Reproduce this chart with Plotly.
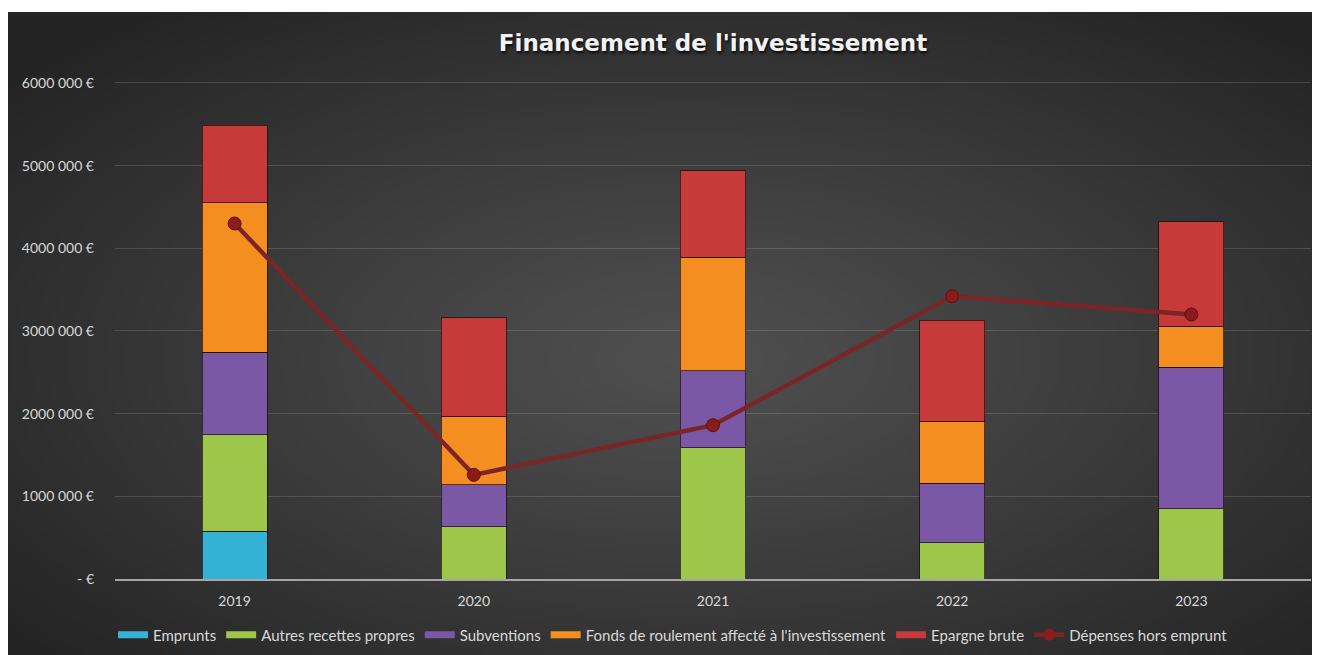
import base64, struct, zlib
import numpy as np
import plotly.graph_objects as go

years = ["2019", "2020", "2021", "2022", "2023"]
emprunts = [580000, 0, 0, 0, 0]
autres_recettes = [1165000, 630000, 1590000, 440000, 850000]
subventions = [995000, 510000, 930000, 716000, 1710000]
fonds_roulement = [1810000, 830000, 1370000, 750000, 500000]
epargne_brute = [940000, 1190000, 1050000, 1224000, 1260000]
depenses_hors_emprunt = [4300000, 1260000, 1860000, 3420000, 3200000]

ytick_vals = [0, 1000000, 2000000, 3000000, 4000000, 5000000, 6000000]
ytick_text = ["- €", "1000 000 €", "2000 000 €", "3000 000 €", "4000 000 €", "5000 000 €", "6000 000 €"]

# ---- background radial gradient as PNG ----
def make_png(arr):
    h, w, _ = arr.shape
    raw = b"".join(b"\x00" + arr[i].tobytes() for i in range(h))
    def chunk(t, d):
        c = struct.pack(">I", len(d)) + t + d
        return c + struct.pack(">I", zlib.crc32(t + d) & 0xffffffff)
    return (b"\x89PNG\r\n\x1a\n" + chunk(b"IHDR", struct.pack(">IIBBBBB", w, h, 8, 2, 0, 0, 0))
            + chunk(b"IDAT", zlib.compress(raw, 9)) + chunk(b"IEND", b""))

W, H = 262, 129
yy, xx = np.mgrid[0:H, 0:W]
dx = (xx - W * 0.52) / (W * 0.5)
dy = (yy - H * 0.52) / (H * 0.5)
r = np.clip(np.sqrt(dx ** 2 + dy ** 2) / 1.35, 0, 1)
c_in, c_out = 80.0, 36.0
v = c_in + (c_out - c_in) * r ** 1.1
img = np.stack([v, v, v], axis=-1).astype(np.uint8)
src = "data:image/png;base64," + base64.b64encode(make_png(img)).decode()

FW, FH = 1320, 655
L, R, T, B = 107, 17, 72, 84
PW, PH = FW - L - R, FH - T - B
PX_PER_M = 82.67
ytop = PH / PX_PER_M * 1e6

def px(x):
    return (x - L) / PW
def py(y):
    return (FH - B - y) / PH

fig = go.Figure()
colors = ["#35b3d6", "#9cc74a", "#7a58a6", "#f58e20", "#c73a3a"]
names = ["Emprunts", "Autres recettes propres", "Subventions",
         "Fonds de roulement affecté à l'investissement", "Epargne brute"]
series = [emprunts, autres_recettes, subventions, fonds_roulement, epargne_brute]
for n, s, c in zip(names, series, colors):
    fig.add_trace(go.Bar(x=years, y=s, name=n, legendgroup=n, showlegend=False,
                         marker=dict(color=c, line=dict(color="rgba(30,10,10,0.7)", width=1))))

fig.add_trace(go.Scatter(x=years, y=depenses_hors_emprunt, name="Dépenses hors emprunt", mode="lines+markers",
                         showlegend=False, legendgroup="dep",
                         line=dict(color="#7a2626", width=4.5),
                         marker=dict(color="#8c1c1c", size=13, line=dict(color="#5a1010", width=1))))

# legend entries (wide bar swatches like the original)
for n, c in zip(names, colors):
    fig.add_trace(go.Scatter(x=[None], y=[None], name=n, legendgroup=n, mode="lines",
                             line=dict(color=c, width=7), hoverinfo="skip"))
fig.add_trace(go.Scatter(x=[None], y=[None], name="Dépenses hors emprunt", legendgroup="dep",
                         mode="lines+markers", line=dict(color="#7a2626", width=4.5),
                         marker=dict(color="#8c1c1c", size=12), hoverinfo="skip"))

fig.update_layout(
    width=FW, height=FH,
    margin=dict(l=L, r=R, t=T, b=B),
    paper_bgcolor="white", plot_bgcolor="rgba(0,0,0,0)",
    barmode="stack", bargap=0.728,
    font=dict(family="Lato, Open Sans, sans-serif", color="#d9d9d9", size=14),
    title=dict(text="<b>Financement de l'investissement</b>", x=0.5, xref="paper", xanchor="center",
               y=1 - 35 / FH, yanchor="middle", yref="container",
               font=dict(size=23, color="#f2f2f2", family="DejaVu Sans, sans-serif",
                         shadow="1px 2px 3px rgba(0,0,0,0.9)")),
    xaxis=dict(showgrid=False, showline=True, linecolor="#a6a6a6", linewidth=2, ticks="",
               ticklabelstandoff=8, tickfont=dict(size=14, color="#d9d9d9")),
    yaxis=dict(range=[0, ytop], tickvals=ytick_vals, ticktext=ytick_text, showgrid=True,
               gridcolor="rgba(255,255,255,0.14)", gridwidth=1, zeroline=False, showline=False,
               ticks="", ticklabelstandoff=20, tickfont=dict(size=14, color="#d9d9d9")),
    legend=dict(orientation="h", x=px(665), xanchor="center", y=py(627), yanchor="middle",
                traceorder="normal", font=dict(size=15, color="#d9d9d9"), bgcolor="rgba(0,0,0,0)",
                itemwidth=30, tracegroupgap=0),
    images=[dict(source=src, xref="paper", yref="paper", x=px(-1), y=py(4),
                 sizex=px(1308) - px(-1), sizey=py(4) - py(FH + 10), xanchor="left", yanchor="top",
                 sizing="stretch", layer="below")],
)

fig.write_html("out.html")
